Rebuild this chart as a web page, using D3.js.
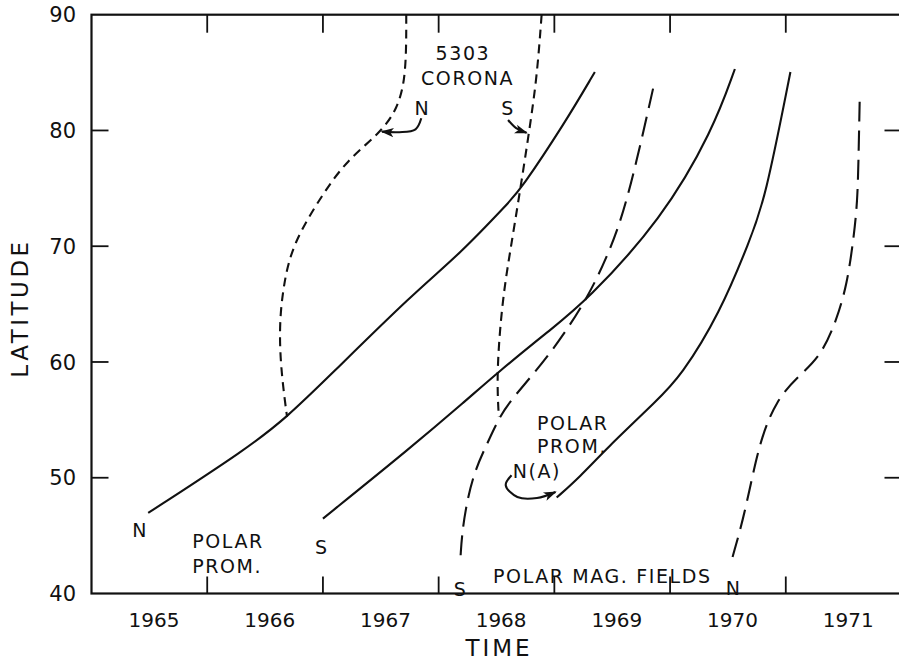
<!DOCTYPE html>
<html>
<head>
<meta charset="utf-8">
<script src="https://cdn.jsdelivr.net/npm/d3@7"></script>
<style>
  body { margin: 0; background: #fff; }
  svg { display: block; font-family: "DejaVu Sans", "Liberation Sans", sans-serif; }
  .frame { stroke: #111; stroke-width: 2.2; fill: none; }
  .tick { stroke: #111; stroke-width: 1.8; }
  .curve { fill: none; stroke: #111; stroke-width: 2.1; }
  .lbl { fill: #111; }
</style>
</head>
<body>
<svg id="chart" width="899" height="662"></svg>
<script>
// Time in years, latitude in degrees

// solid lines: polar prominences
const promN = [[1965.49, 46.96], [1966.35, 52.55], [1966.69, 55.25], [1967.03, 58.53],
  [1967.78, 65.92], [1968.19, 69.38], [1968.62, 73.94], [1968.70, 74.79], [1969.08, 80.47], [1969.35, 85.05]];
const promS = [[1967.00, 46.47], [1967.75, 52.52], [1968.24, 56.70], [1968.50, 59.00], [1968.96, 62.75],
  [1969.27, 65.19], [1969.93, 72.34], [1970.37, 80.03], [1970.56, 85.31]];
const promNA = [[1969.02, 48.29], [1969.22, 50.07], [1969.45, 52.52], [1969.89, 56.70], [1970.09, 58.71],
  [1970.43, 64.19], [1970.69, 70.53], [1970.82, 73.98], [1971.04, 85.05]];

// short dashes: 5303 corona
const coronaN = [[1967.72, 90], [1967.72, 84.62], [1967.64, 81.76], [1967.49, 79.75], [1967.21, 77.44],
  [1967.00, 74.56], [1966.74, 70.24], [1966.66, 66.78], [1966.62, 63.03], [1966.64, 59.01], [1966.69, 55.25]];
const coronaS = [[1968.89, 90], [1968.85, 84.64], [1968.78, 79.75], [1968.70, 74.56], [1968.62, 69.66],
  [1968.55, 65.34], [1968.50, 59.01], [1968.52, 55.25]];

// long dashes: polar magnetic fields
const magS = [[1968.19, 43.3], [1968.20, 44.88], [1968.23, 47.19], [1968.30, 50.36], [1968.42, 52.96],
  [1968.52, 55.12], [1968.62, 56.70], [1968.95, 60.44], [1969.27, 65.19], [1969.45, 68.94],
  [1969.62, 73.27], [1969.86, 83.92]];
const magN = [[1970.54, 43.16], [1970.63, 46.33], [1970.71, 50.07], [1970.79, 53.53], [1970.92, 56.70],
  [1971.10, 58.71], [1971.30, 60.44], [1971.44, 63.61], [1971.53, 66.78], [1971.58, 70.24],
  [1971.62, 73.70], [1971.63, 78.31], [1971.64, 83.23]];

// arrows pointing from the letters to the curves
const arrowCoronaN = [[1967.85, 81.05], [1967.80, 80.1], [1967.66, 79.85], [1967.51, 79.9]];
const arrowCoronaS = [[1968.60, 80.9], [1968.67, 80.2], [1968.76, 79.8]];
const arrowNA = [[1968.63, 50.22], [1968.58, 49.35], [1968.68, 48.34], [1968.85, 48.25], [1969.01, 48.77]];

const yearLabels = [1965, 1966, 1967, 1968, 1969, 1970, 1971];
const yearTicks = [1966, 1967, 1968, 1969, 1970, 1971];
const latTicks = [40, 50, 60, 70, 80, 90];

const svg = d3.select('#chart');
const x = d3.scaleLinear().domain([1965, 1972]).range([91.5, 901.5]);
const y = d3.scaleLinear().domain([40, 90]).range([593.5, 14.7]);

// frame
svg.append('rect').attr('class', 'frame')
  .attr('x', x(1965)).attr('y', y(90))
  .attr('width', x(1972) - x(1965)).attr('height', y(40) - y(90));

// x ticks, top and bottom, pointing inward
yearTicks.forEach(t => {
  svg.append('line').attr('class', 'tick')
    .attr('x1', x(t)).attr('x2', x(t)).attr('y1', y(90)).attr('y2', y(90) + 18);
  svg.append('line').attr('class', 'tick')
    .attr('x1', x(t)).attr('x2', x(t)).attr('y1', y(40)).attr('y2', y(40) - 17);
});

// y ticks, left and right
latTicks.filter(d => d > 40 && d < 90).forEach(t => {
  svg.append('line').attr('class', 'tick')
    .attr('x1', x(1965)).attr('x2', x(1965) + 17).attr('y1', y(t)).attr('y2', y(t));
  svg.append('line').attr('class', 'tick')
    .attr('x1', x(1972)).attr('x2', x(1972) - 17).attr('y1', y(t)).attr('y2', y(t));
});

// tick labels
svg.selectAll('.ylab').data(latTicks).enter().append('text')
  .attr('class', 'lbl').attr('x', 76).attr('y', d => y(d)).attr('dy', '0.36em')
  .attr('text-anchor', 'end').style('font-size', '21px').text(d => d);

svg.selectAll('.xlab').data(yearLabels).enter().append('text')
  .attr('class', 'lbl').attr('x', d => x(d + 0.54)).attr('y', 627)
  .attr('text-anchor', 'middle').style('font-size', '20px').text(d => d);

// axis titles
svg.append('text').attr('class', 'lbl').attr('x', 499).attr('y', 656)
  .attr('text-anchor', 'middle').style('font-size', '23px').style('letter-spacing', '3px').text('TIME');
svg.append('text').attr('class', 'lbl')
  .attr('transform', 'translate(28,308) rotate(-90)')
  .attr('text-anchor', 'middle').style('font-size', '23px').style('letter-spacing', '3.5px').text('LATITUDE');

// curves
const line = d3.line().x(d => x(d[0])).y(d => y(d[1])).curve(d3.curveBasis);

[promN, promS, promNA].forEach(s => {
  svg.append('path').attr('class', 'curve').attr('d', line(s));
});
[coronaN, coronaS].forEach(s => {
  svg.append('path').attr('class', 'curve').attr('stroke-dasharray', '9,6').attr('d', line(s));
});
[magS, magN].forEach(s => {
  svg.append('path').attr('class', 'curve').attr('stroke-dasharray', '20,9').attr('d', line(s));
});

// arrows
svg.append('defs').append('marker')
  .attr('id', 'head').attr('viewBox', '0 0 10 10').attr('refX', 9).attr('refY', 5)
  .attr('markerWidth', 13).attr('markerHeight', 13).attr('markerUnits', 'userSpaceOnUse')
  .attr('orient', 'auto')
  .append('path').attr('d', 'M0,1.5 L10,5 L0,8.5 L2.5,5 Z').attr('fill', '#111');

const arrowLine = d3.line().x(d => x(d[0])).y(d => y(d[1])).curve(d3.curveCatmullRom);
[arrowCoronaN, arrowCoronaS, arrowNA].forEach(s => {
  svg.append('path').attr('class', 'curve').attr('stroke-width', 1.8)
    .attr('marker-end', 'url(#head)').attr('d', arrowLine(s));
});

// annotation text, anchored in data coordinates
const notes = [
  { t: '5303', at: [1968.21, 86.08], anchor: 'middle' },
  { t: 'CORONA', at: [1968.25, 83.92], anchor: 'middle' },
  { t: 'N', at: [1967.86, 81.33], anchor: 'middle' },
  { t: 'S', at: [1968.60, 81.33], anchor: 'middle' },
  { t: 'N', at: [1965.42, 44.86], anchor: 'middle' },
  { t: 'POLAR', at: [1965.87, 43.97], anchor: 'start' },
  { t: 'PROM.', at: [1965.87, 41.73], anchor: 'start' },
  { t: 'S', at: [1966.99, 43.45], anchor: 'middle' },
  { t: 'S', at: [1968.19, 39.82], anchor: 'middle' },
  { t: 'POLAR MAG. FIELDS', at: [1968.47, 40.94], anchor: 'start' },
  { t: 'N', at: [1970.55, 39.9], anchor: 'middle' },
  { t: 'POLAR', at: [1968.85, 54.11], anchor: 'start' },
  { t: 'PROM.', at: [1968.85, 52.12], anchor: 'start' },
  { t: 'N(A)', at: [1968.64, 50.0], anchor: 'start' }
];
svg.selectAll('.note').data(notes).enter().append('text')
  .attr('class', 'lbl').attr('x', d => x(d.at[0])).attr('y', d => y(d.at[1]))
  .attr('text-anchor', d => d.anchor).style('font-size', '19px').style('letter-spacing', '1.6px')
  .text(d => d.t);
</script>
</body>
</html>
